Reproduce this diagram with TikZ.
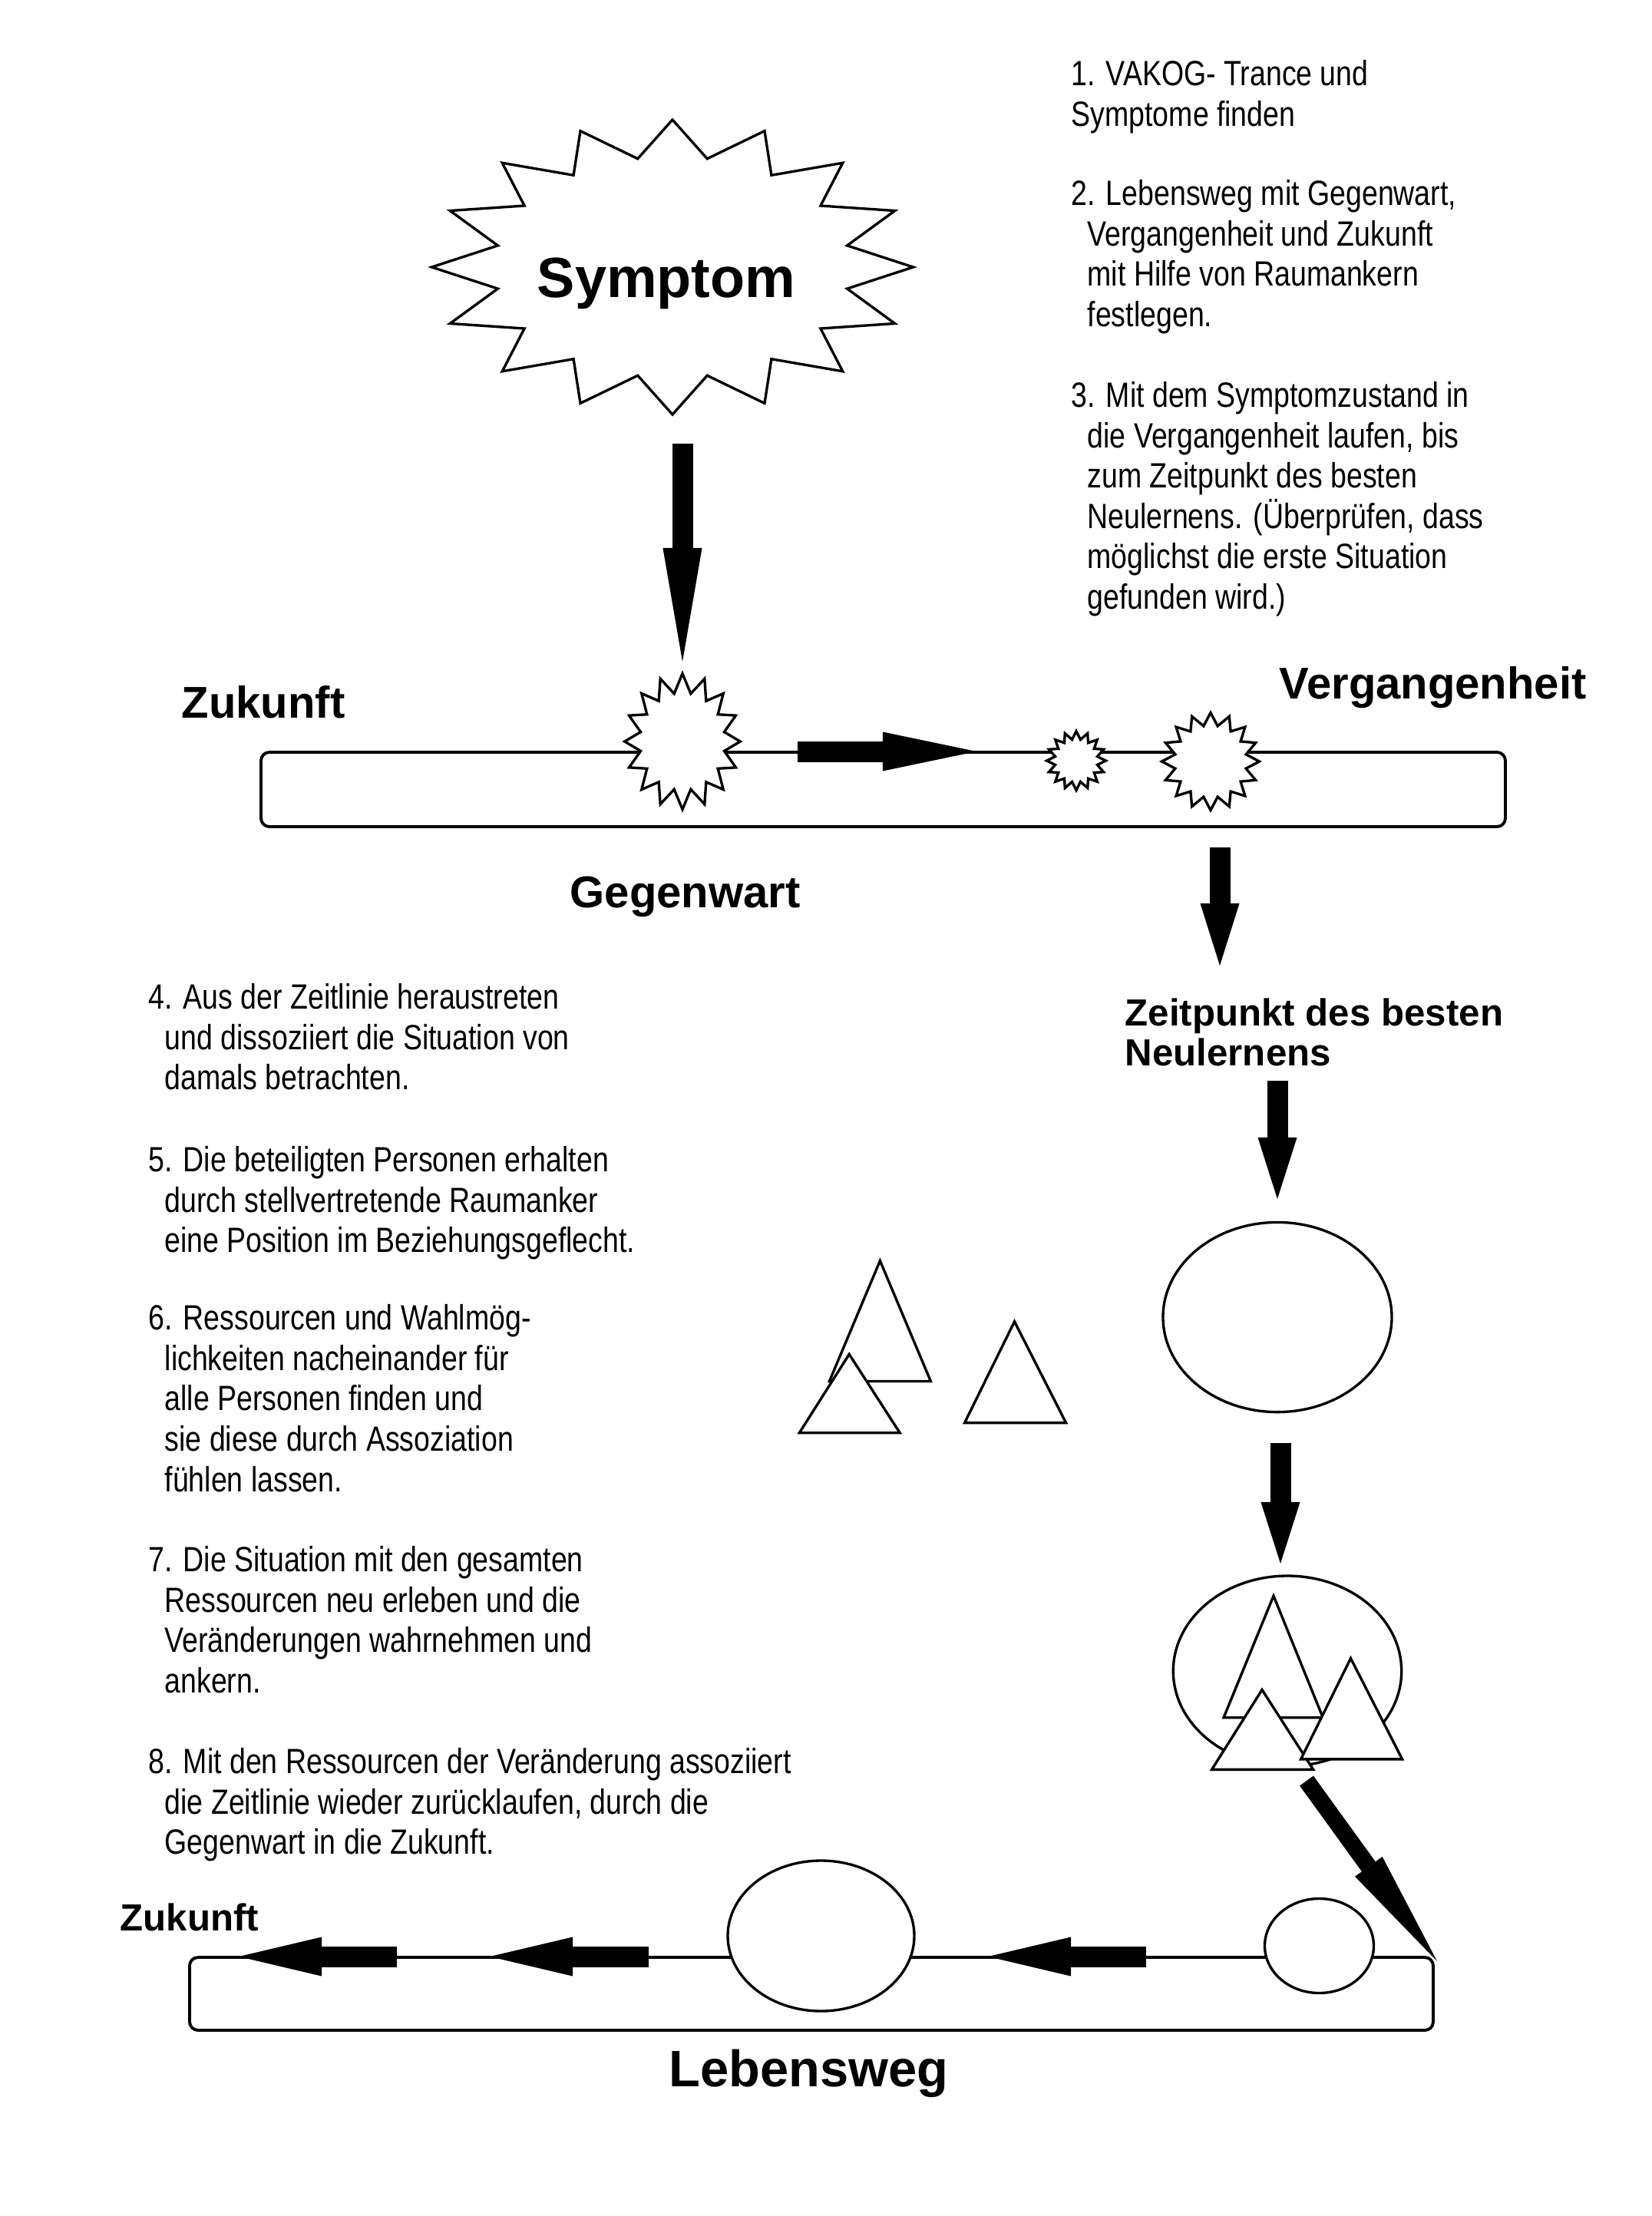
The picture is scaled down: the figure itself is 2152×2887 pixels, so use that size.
\documentclass[tikz,border=0pt]{standalone}
\usepackage{fontspec}
\setmainfont{Liberation Sans}
\newfontfamily\narrowfont[FakeStretch=0.82]{Liberation Sans}
\usetikzlibrary{arrows.meta}

\newcommand{\stepindent}{\hspace*{0.21cm}}
% star burst: centre, outer radii, inner radii
\newcommand{\burst}[3]{%
  \draw[outline, shift={#1}] (90:#2) \foreach \k in {1,...,16}
    { -- ({90+(\k-0.5)*22.5}:#3) -- ({90+\k*22.5}:#2) } -- cycle;}

\tikzset{
  steptext/.style={anchor=north west, inner sep=0pt, align=left,
    font=\narrowfont\fontsize{13}{14.94}\selectfont},
  bigword/.style={anchor=base west, inner sep=0pt,
    font=\bfseries\fontsize{16.5}{19}\selectfont},
  outline/.style={line width=0.95pt, fill=white, line join=miter},
  timeline/.style={line width=1.1pt, rounded corners=0.11cm},
  fatarrow/.style={line width=0.27cm, -{Triangle[line width=0pt, length=#1, width=0.51cm]}},
  slimarrow/.style={line width=0.22cm, -{Triangle[line width=0pt, length=#1, width=0.44cm]}},
}

\begin{document}
\begin{tikzpicture}[x=0.01cm, y=-0.01cm]
  \fill[white] (0,0) rectangle (2152,2887);
  \useasboundingbox (0,0) rectangle (2152,2887);

  % Steps 1-3 (right column)
  \node[steptext] (step1) at (1395,78) {1. VAKOG- Trance und\\Symptome finden};
  \node[steptext] (step2) at (1395,234) {2. Lebensweg mit Gegenwart,\\
    \stepindent Vergangenheit und Zukunft\\ \stepindent mit Hilfe von Raumankern\\
    \stepindent festlegen.};
  \node[steptext] (step3) at (1395,497) {3. Mit dem Symptomzustand in\\
    \stepindent die Vergangenheit laufen, bis\\ \stepindent zum Zeitpunkt des besten\\
    \stepindent Neulernens. (Überprüfen, dass\\ \stepindent möglichst die erste Situation\\
    \stepindent gefunden wird.)};

  % Symptom
  \burst{(876,348)}{313.6 and 192}{232 and 144};
  \node[font=\bfseries\fontsize{21}{25}\selectfont, anchor=base, inner sep=0pt] (symptom) at (868,387) {Symptom};
  \coordinate (a1s) at (889,578);
  \coordinate (a1e) at (889,862);
  \draw[fatarrow=1.48cm] (a1s) -- (a1e);

  % Upper time line
  \node[bigword] (zukunft1) at (236,935) {Zukunft};
  \node[bigword] (vergangenheit) at (1666,910) {Vergangenheit};
  \node[bigword] (gegenwart) at (742,1182) {Gegenwart};
  \draw[timeline] (340,980) rectangle (1961,1077);
  \burst{(889,966)}{75.3 and 88.5}{55.5 and 63.5};
  \burst{(1402,991)}{38.5 and 38.5}{28 and 28};
  \burst{(1577,992)}{63.5 and 63.5}{47 and 47};
  \coordinate (a2s) at (1039,979);
  \coordinate (a2e) at (1272,979);
  \draw[fatarrow=1.22cm] (a2s) -- (a2e);

  % Zeitpunkt des besten Neulernens
  \coordinate (a3s) at (1589,1104);
  \coordinate (a3e) at (1589,1258);
  \draw[fatarrow=0.81cm] (a3s) -- (a3e);
  \node[anchor=north west, inner sep=0pt, align=left,
    font=\bfseries\fontsize{14}{14.8}\selectfont] (zeitpunkt) at (1465,1300)
    {Zeitpunkt des besten\\Neulernens};
  \coordinate (a4s) at (1664,1408);
  \coordinate (a4e) at (1664,1562);
  \draw[fatarrow=0.8cm] (a4s) -- (a4e);
  \draw[outline] (1664,1716) ellipse (149 and 123.6);

  % Persons
  \draw[outline] (1146.4,1642.5) -- (1212.4,1799.5) -- (1080.4,1799.5) -- cycle;
  \draw[outline] (1106.2,1764.3) -- (1172.2,1866.7) -- (1041.3,1866.7) -- cycle;
  \draw[outline] (1321.5,1721.7) -- (1388.6,1853.6) -- (1256.6,1853.6) -- cycle;

  % Situation with resources
  \coordinate (a5s) at (1668,1880);
  \coordinate (a5e) at (1668,2037);
  \draw[fatarrow=0.8cm] (a5s) -- (a5e);
  \draw[outline] (1677,2177) ellipse (148.7 and 124);
  \draw[outline] (1659,2079) -- (1723.3,2237.7) -- (1594,2237.7) -- cycle;
  \draw[outline] (1644,2201.4) -- (1710.7,2305.3) -- (1578.6,2305.3) -- cycle;
  \draw[outline] (1759.5,2160.4) -- (1826.6,2291.8) -- (1694.6,2291.8) -- cycle;

  % Steps 4-8 (left column)
  \node[steptext] (step4) at (193,1281) {4. Aus der Zeitlinie heraustreten\\
    \stepindent und dissoziiert die Situation von\\ \stepindent damals betrachten.};
  \node[steptext] (step5) at (193,1493) {5. Die beteiligten Personen erhalten\\
    \stepindent durch stellvertretende Raumanker\\
    \stepindent eine Position im Beziehungsgeflecht.};
  \node[steptext] (step6) at (193,1699) {6. Ressourcen und Wahlmög-\\
    \stepindent lichkeiten nacheinander für\\ \stepindent alle Personen finden und\\
    \stepindent sie diese durch Assoziation\\ \stepindent fühlen lassen.};
  \node[steptext] (step7) at (193,2014) {7. Die Situation mit den gesamten\\
    \stepindent Ressourcen neu erleben und die\\ \stepindent Veränderungen wahrnehmen und\\
    \stepindent ankern.};
  \node[steptext] (step8) at (193,2277) {8. Mit den Ressourcen der Veränderung assoziiert\\
    \stepindent die Zeitlinie wieder zurücklaufen, durch die\\
    \stepindent Gegenwart in die Zukunft.};

  % Lower time line (Lebensweg)
  \coordinate (a6s) at (1702,2320);
  \coordinate (a6e) at (1872,2555);
  \draw[slimarrow=1.52cm] (a6s) -- (a6e);
  \draw[timeline] (247,2550) rectangle (1867,2645);
  \draw[outline] (1069.5,2522) ellipse (121.5 and 98);
  \draw[outline] (1718.5,2535) ellipse (71 and 61.5);
  \foreach \s/\e in {517/311, 845/638, 1493/1287} {
    \coordinate (l\s) at (\s,2549);
    \coordinate (r\s) at (\e,2549);
    \draw[fatarrow=1.08cm] (l\s) -- (r\s);
  }
  \node[bigword, font=\bfseries\fontsize{14}{16}\selectfont] (zukunft2) at (156,2515) {Zukunft};
  \node[bigword, font=\bfseries\fontsize{19}{22}\selectfont] (lebensweg) at (871,2718) {Lebensweg};
\end{tikzpicture}
\end{document}
